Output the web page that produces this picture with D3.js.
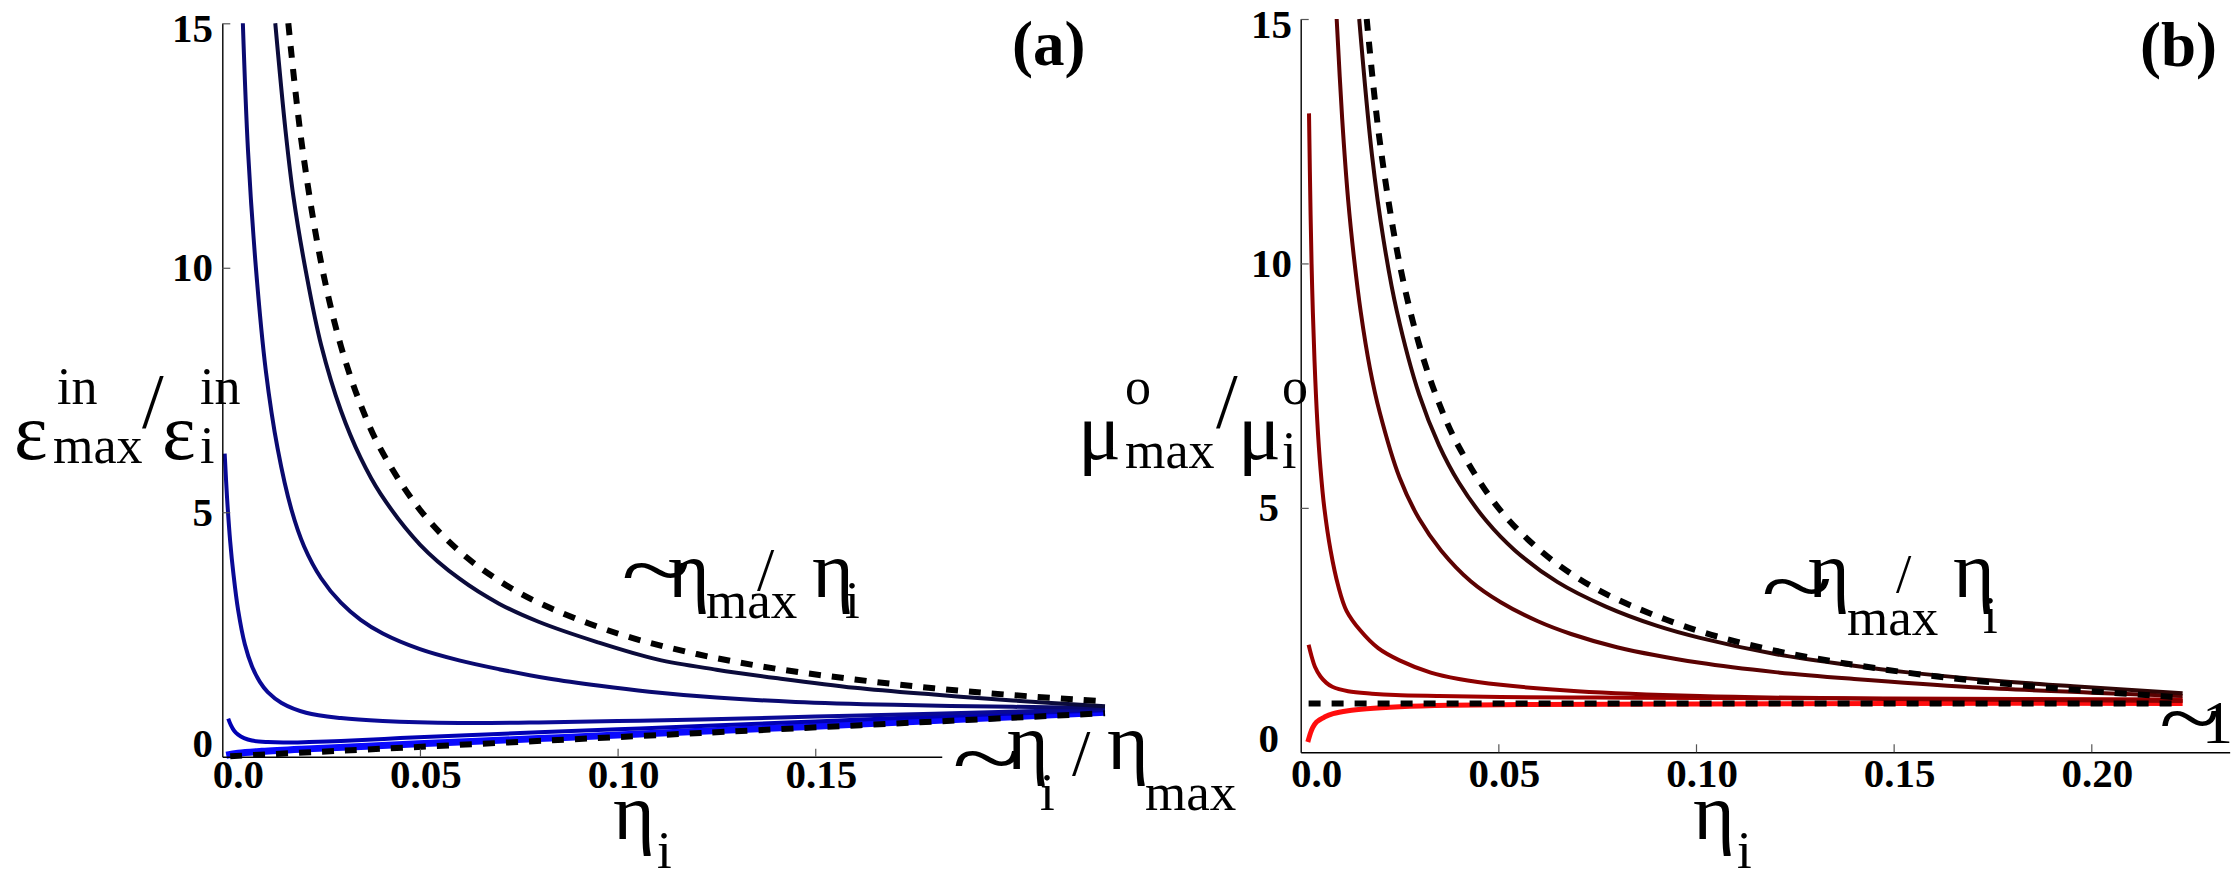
<!DOCTYPE html>
<html>
<head>
<meta charset="utf-8">
<script src="https://cdn.jsdelivr.net/npm/d3@7/dist/d3.min.js"></script>
<style>
  body { margin: 0; background: #fff; }
  svg text { font-family: "Liberation Serif", "Times New Roman", serif; fill: #000; }
</style>
</head>
<body>
<svg id="chart" width="2234" height="875"></svg>
<script>
// tick values / labels
var xTicksA = [0, 0.05, 0.10, 0.15];
var xTickLabelsA = ["0.0", "0.05", "0.10", "0.15"];
var xTicksB = [0, 0.05, 0.10, 0.15, 0.20];
var xTickLabelsB = ["0.0", "0.05", "0.10", "0.15", "0.20"];
var yTicks = [0, 5, 10, 15];
var yTickLabels = ["0", "5", "10", "15"];

// panel (a): [eta_i, eps_max/eps_i]
var dashUpperA = [[0.0167,15],[0.02,12.6],[0.025,10.1],[0.03,8.4],[0.035,7.2],[0.04,6.3],[0.05,5.05],[0.06,4.2],[0.07,3.6],[0.08,3.15],[0.1,2.52],[0.12,2.1],[0.14,1.8],[0.16,1.58],[0.18,1.4],[0.2,1.26],[0.2233,1.13]];
var dashLowerA = [[0.002,0.01],[0.121,0.485],[0.2233,0.89]];
var curveA1 = [[0.0134,15],[0.016,12.8],[0.018,11.45],[0.0212,9.9],[0.025,8.42],[0.03,7.08],[0.035,6.11],[0.04,5.38],[0.05,4.34],[0.06,3.64],[0.07,3.13],[0.08,2.76],[0.095,2.34],[0.11,1.99],[0.125,1.78],[0.14,1.61],[0.16,1.41],[0.18,1.27],[0.2,1.15],[0.2233,1.03]];
var curveA2 = [[0.0052,15],[0.0065,12.4],[0.0085,10],[0.011,7.9],[0.014,6.3],[0.0175,5.05],[0.0207,4.3],[0.025,3.65],[0.03,3.15],[0.035,2.8],[0.0406,2.52],[0.05,2.2],[0.0599,1.97],[0.07,1.79],[0.0825,1.6],[0.0955,1.45],[0.108,1.33],[0.125,1.21],[0.145,1.12],[0.17,1.06],[0.2,1.02],[0.2233,1.0]];
var curveA3 = [[0.0006,6.2],[0.0012,5.3],[0.002,4.4],[0.0028,3.75],[0.004,3.0],[0.0057,2.3],[0.0075,1.85],[0.0095,1.53],[0.0115,1.32],[0.015,1.1],[0.0212,0.9],[0.03,0.79],[0.0406,0.73],[0.06,0.69],[0.08,0.7],[0.1,0.73],[0.121,0.76],[0.15,0.82],[0.18,0.88],[0.2233,0.97]];
var curveA4 = [[0.0015,0.78],[0.0022,0.64],[0.003,0.53],[0.004,0.45],[0.0055,0.38],[0.0075,0.33],[0.0115,0.3],[0.0154,0.29],[0.022,0.3],[0.03,0.32],[0.045,0.38],[0.0618,0.44],[0.08,0.5],[0.1,0.56],[0.121,0.63],[0.15,0.72],[0.18,0.82],[0.2233,0.95]];
var curveA5 = [[0.001,0.03],[0.004,0.07],[0.01,0.11],[0.02,0.155],[0.0365,0.215],[0.06,0.3],[0.08,0.37],[0.1,0.445],[0.121,0.52],[0.15,0.625],[0.18,0.74],[0.2233,0.91]];

// panel (b): [eta_i, mu_max/mu_i]
var dashUpperB = [[0.0167,15],[0.02,12.5],[0.025,10],[0.03,8.33],[0.035,7.14],[0.04,6.25],[0.05,5.0],[0.06,4.17],[0.07,3.57],[0.08,3.13],[0.1,2.5],[0.12,2.08],[0.14,1.79],[0.16,1.56],[0.18,1.39],[0.2,1.25],[0.2231,1.12]];
var dashFlatB = [[0.002,1.0],[0.2231,1.0]];
var curveB1 = [[0.0148,15],[0.018,12.24],[0.021,10.46],[0.0243,9.03],[0.03,7.31],[0.035,6.28],[0.04,5.52],[0.047,4.73],[0.0542,4.13],[0.065,3.48],[0.0772,2.98],[0.09,2.59],[0.101,2.34],[0.12,2.01],[0.14,1.77],[0.153,1.64],[0.175,1.47],[0.1954,1.35],[0.2231,1.21]];
var curveB2 = [[0.0091,15],[0.0105,12.95],[0.012,11.3],[0.0135,10.1],[0.0152,9.0],[0.0175,7.86],[0.02,6.95],[0.025,5.62],[0.03,4.77],[0.0355,4.13],[0.043,3.5],[0.0506,3.07],[0.06,2.68],[0.0684,2.42],[0.08,2.15],[0.101,1.83],[0.12,1.64],[0.14,1.5],[0.17,1.33],[0.2,1.22],[0.2231,1.15]];
var curveB3 = [[0.0021,13.07],[0.0025,11],[0.0029,9.5],[0.0035,8.0],[0.0042,6.77],[0.005,5.81],[0.006,4.98],[0.00756,4.13],[0.0095,3.4],[0.01156,2.9],[0.015,2.5],[0.0196,2.13],[0.025,1.88],[0.0329,1.63],[0.04,1.5],[0.0506,1.38],[0.07,1.25],[0.101,1.15],[0.15,1.09],[0.2231,1.05]];
var curveB4 = [[0.002,2.2],[0.0028,1.95],[0.0036,1.75],[0.005,1.55],[0.0065,1.42],[0.008,1.34],[0.012,1.25],[0.018,1.2],[0.024,1.17],[0.035,1.15],[0.0506,1.13],[0.075,1.12],[0.101,1.11],[0.15,1.1],[0.2231,1.08]];
var curveB5 = [[0.0018,0.21],[0.0025,0.4],[0.003,0.5],[0.004,0.62],[0.006,0.72],[0.0082,0.79],[0.012,0.85],[0.0167,0.89],[0.025,0.93],[0.0378,0.96],[0.06,0.98],[0.1,0.99],[0.15,1.0],[0.2231,1.0]];

var pxPerUnit = 3953; // px per unit of eta, same in both panels

var panels = [
  {
    left: 222.3, bottom: 756.7, top: 23.3, xmax: 0.182, ylabRight: [213, 213, 213, 213],
    xticks: xTicksA, xlabels: xTickLabelsA, tickBase: 788,
    curves: [
      {data: curveA5, color: "#0a0aff", width: 7},
      {data: curveA4, color: "#0000b4", width: 4},
      {data: curveA3, color: "#0a0a96", width: 4},
      {data: curveA2, color: "#0a0a70", width: 4},
      {data: curveA1, color: "#0b0b3b", width: 4},
      {data: dashUpperA, color: "#000", width: 6, dash: "12,11"},
      {data: dashLowerA, color: "#000", width: 6, dash: "12,11"}
    ]
  },
  {
    left: 1300.7, bottom: 752.3, top: 19, xmax: 0.235, ylabRight: [1279, 1279, 1292, 1292],
    xticks: xTicksB, xlabels: xTickLabelsB, tickBase: 787,
    curves: [
      {data: curveB5, color: "#ff0d0d", width: 5},
      {data: curveB4, color: "#a00000", width: 4},
      {data: curveB3, color: "#8b0000", width: 4},
      {data: curveB2, color: "#5a0202", width: 4},
      {data: curveB1, color: "#300606", width: 4},
      {data: dashUpperB, color: "#000", width: 6, dash: "12,11"},
      {data: dashFlatB, color: "#000", width: 6, dash: "12,11"}
    ]
  }
];

var svg = d3.select("#chart");

function drawPanel(p) {
  var x = d3.scaleLinear().domain([0, p.xmax]).range([p.left, p.left + p.xmax * pxPerUnit]);
  var y = d3.scaleLinear().domain([0, 15]).range([p.bottom, p.top]);
  var g = svg.append("g");

  var line = d3.line()
    .x(function(d) { return x(d[0]); })
    .y(function(d) { return y(d[1]); })
    .curve(d3.curveCatmullRom.alpha(0.5));

  for (var c of p.curves) {
    g.append("path")
      .datum(c.data)
      .attr("d", line)
      .attr("fill", "none")
      .attr("stroke", c.color)
      .attr("stroke-width", c.width)
      .attr("stroke-dasharray", c.dash || null);
  }

  // axes: ticks point inwards, labels drawn by hand below
  var xAxis = d3.axisBottom(x).tickValues(p.xticks.slice(1)).tickSizeInner(-8).tickSizeOuter(0).tickFormat("");
  var yAxis = d3.axisLeft(y).tickValues(yTicks.slice(1)).tickSizeInner(-8).tickSizeOuter(0).tickFormat("");
  g.append("g").attr("transform", "translate(0," + p.bottom + ")").call(xAxis);
  g.append("g").attr("transform", "translate(" + p.left + ",0)").call(yAxis);
  g.selectAll(".domain").attr("stroke", "#000").attr("stroke-width", 1.4);
  g.selectAll(".tick line").attr("stroke", "#555").attr("stroke-width", 1.2);

  g.selectAll(".xlab")
    .data(p.xticks)
    .enter()
    .append("text")
    .attr("class", "xlab")
    .attr("x", function(d) { return x(d) + (d === 0 ? 16 : 6); })
    .attr("y", p.tickBase)
    .attr("text-anchor", "middle")
    .attr("font-size", 41)
    .attr("font-weight", "bold")
    .text(function(d, i) { return p.xlabels[i]; });

  g.selectAll(".ylab")
    .data(yTicks)
    .enter()
    .append("text")
    .attr("class", "ylab")
    .attr("x", function(d, i) { return p.ylabRight[i]; })
    .attr("y", function(d) {
      if (d === 0) return p.bottom;
      if (d === 15) return p.top + 19;
      return y(d) + 13.5;
    })
    .attr("text-anchor", "end")
    .attr("font-size", 41)
    .attr("font-weight", "bold")
    .text(function(d, i) { return yTickLabels[i]; });
}

panels.forEach(drawPanel);

// math-style labels built from pieces: [text, x, baseline, size, weight]
function mathLabel(parts) {
  var g = svg.append("g");
  g.selectAll("text")
    .data(parts)
    .enter()
    .append("text")
    .attr("x", function(d) { return d[1]; })
    .attr("y", function(d) { return d[2]; })
    .attr("font-size", function(d) { return d[3]; })
    .attr("font-weight", function(d) { return d[4] || "normal"; })
    .text(function(d) { return d[0]; });
}

// the reference "~" is a wide wave sitting at mid height; stretch the font's tilde about its centre
function tilde(x, cy, w) {
  var size = 78;
  svg.append("text")
    .attr("transform", "translate(" + x + "," + cy + ") scale(" + (w / 24) + ",1.15)")
    .attr("y", 0.26 * size)
    .attr("font-size", size)
    .text("~");
}

// panel (a)
mathLabel([["(a)", 1012, 65, 63, "bold"]]);
mathLabel([["ε", 14, 459, 80], ["in", 57, 404, 52], ["max", 53, 463, 52], ["/", 142, 427, 78],
           ["ε", 162, 459, 80], ["in", 200, 404, 52], ["i", 200, 463, 52]]);
mathLabel([["η", 613, 839, 80], ["i", 657, 868, 53]]);
tilde(621, 577, 40);
mathLabel([["η", 668, 597, 80], ["max", 706, 618, 53], ["/", 757, 590, 62],
           ["η", 812, 597, 80], ["i", 845, 618, 53]]);
tilde(952, 765, 40);
mathLabel([["η", 1007, 769, 80], ["i", 1040, 810, 53], ["/", 1072, 775, 66],
           ["η", 1107, 769, 80], ["max", 1145, 810, 53]]);

// panel (b)
mathLabel([["(b)", 2140, 66, 63, "bold"]]);
mathLabel([["μ", 1078, 459, 80], ["o", 1125, 404, 52], ["max", 1125, 468, 52], ["/", 1216, 427, 78],
           ["μ", 1238, 459, 80], ["o", 1282, 404, 52], ["i", 1282, 468, 52]]);
mathLabel([["η", 1693, 839, 80], ["i", 1737, 868, 53]]);
tilde(1761, 593, 41);
mathLabel([["η", 1808, 597, 80], ["max", 1847, 635, 53], ["/", 1896, 592, 55],
           ["η", 1953, 597, 80], ["i", 1983, 633, 53]]);
tilde(2159, 725, 35);
mathLabel([["1", 2202, 743, 62]]);
</script>
</body>
</html>
